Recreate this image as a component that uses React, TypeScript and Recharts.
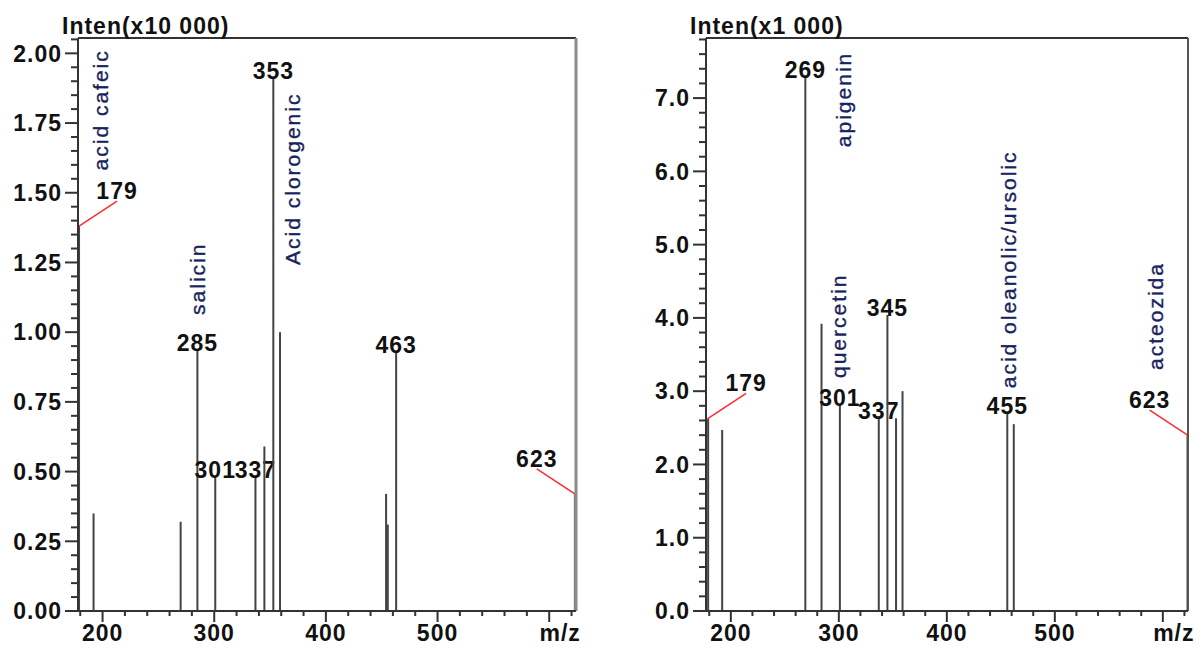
import React from 'react';
import { ComposedChart, Bar, Scatter, XAxis, YAxis, ReferenceLine } from 'recharts';

// ---------- Left spectrum: Inten(x10 000) ----------
const leftMz = [179, 192, 270, 285, 301, 337, 345, 353, 359, 454, 455.5, 463, 623];
const leftIntensity = [1.38, 0.35, 0.32, 0.935, 0.48, 0.48, 0.59, 1.91, 1.0, 0.42, 0.31, 0.93, 0.42];
const leftPeakLabels = [285, 301, 337, 353, 463];
const leftCallouts = [179, 623];
const leftCompounds = ['acid cafeic', 'salicin', 'Acid clorogenic'];
const leftCompoundMz = [197.7, 285, 370.5];
const leftCompoundIntensity = [1.58, 1.062, 1.241];
const leftYMajor = [0, 0.25, 0.5, 0.75, 1.0, 1.25, 1.5, 1.75, 2.0];
const leftTitle = 'Inten(x10 000)';

// ---------- Right spectrum: Inten(x1 000) ----------
const rightMz = [179, 192, 269, 284, 301, 337, 345, 353, 359, 456, 462, 623];
const rightIntensity = [2.63, 2.47, 7.29, 3.92, 2.81, 2.63, 4.04, 2.63, 3.0, 2.7, 2.55, 2.4];
const rightPeakLabels = [269, 301, 337, 345, 456];
const rightPeakLabelText = ['269', '301', '337', '345', '455'];
const rightCallouts = [179, 623];
const rightCompounds = ['apigenin', 'quercetin', 'acid oleanolic/ursolic', 'acteozida'];
const rightCompoundMz = [303.9, 299.2, 456.6, 592.7];
const rightCompoundIntensity = [6.33, 3.18, 3.04, 3.29];
const rightYMajor = [0, 1, 2, 3, 4, 5, 6, 7];
const rightTitle = 'Inten(x1 000)';

// ---------- X axis tick labels ----------
const xMajor = [200, 300, 400, 500, 600];
const xMajorLabels = ['200', '300', '400', '500', 'm/z'];

const FONT = '"Liberation Sans", Arial, sans-serif';
const numStyle: React.CSSProperties = { fontFamily: FONT, fontWeight: 700, fontSize: 23, letterSpacing: 1, fill: '#111' };
const compStyle: React.CSSProperties = {
  fontFamily: FONT,
  fontSize: 21,
  letterSpacing: 2,
  fill: '#17235e',
  stroke: '#17235e',
  strokeWidth: 0.35,
};

const buildTicks = (from: number, to: number, step: number) => {
  const out: number[] = [];
  const n = Math.round((to - from) / step);
  for (let i = 0; i <= n; i++) out.push(Math.round((from + i * step) * 1000) / 1000);
  return out;
};

const isIn = (v: number, list: number[]) => list.some((m) => Math.abs(m - v) < 1e-6);

const XTick = (props: any) => {
  const { x, y, payload } = props;
  const v = payload.value;
  const idx = xMajor.findIndex((m) => Math.abs(m - v) < 1e-6);
  const major = idx >= 0;
  const isUnit = major && xMajorLabels[idx] === 'm/z';
  return (
    <g>
      <line x1={x} x2={x} y1={y} y2={y + (major ? 11 : 5)} stroke="#333" strokeWidth={2} />
      {major && (
        <text x={x + (isUnit ? 11 : 0)} y={y + 30} textAnchor="middle" style={numStyle}>
          {xMajorLabels[idx]}
        </text>
      )}
    </g>
  );
};

const makeYTick = (majors: number[], decimals: number) => (props: any) => {
  const { x, y, payload } = props;
  const v = payload.value;
  const major = isIn(v, majors);
  return (
    <g>
      <line x1={x - (major ? 13 : 7)} x2={x} y1={y} y2={y} stroke="#333" strokeWidth={2} />
      {major && (
        <text x={x - 16} y={y} dy="0.36em" textAnchor="end" style={numStyle}>
          {v.toFixed(decimals)}
        </text>
      )}
    </g>
  );
};

const makePeakShape = (labels: number[], labelText: string[] | null, callouts: number[], mid: number, edgeColor: string) => (props: any) => {
  const { x, y, width, height, payload } = props;
  const cx = x + width / 2;
  const mz = payload.mz;
  const isCallout = isIn(mz, callouts);
  const items: React.ReactNode[] = [
    <rect
      key="b"
      x={cx - 1}
      y={y}
      width={2}
      height={Math.max(0, height)}
      fill={isCallout && mz > mid ? edgeColor : '#444'}
    />,
  ];
  const li = labels.findIndex((m) => Math.abs(m - mz) < 1e-6);
  if (li >= 0) {
    items.push(
      <text key="t" x={cx} y={y + 1} textAnchor="middle" style={numStyle}>
        {labelText ? labelText[li] : String(mz)}
      </text>
    );
  }
  if (isCallout) {
    const dir = mz < mid ? 1 : -1;
    const ex = cx + dir * 38;
    const ey = y - 25;
    items.push(<line key="c" x1={cx} y1={y} x2={ex} y2={ey} stroke="#ff2a2a" strokeWidth={1.5} />);
    items.push(
      <text key="ct" x={ex} y={ey - 2} textAnchor="middle" style={numStyle}>
        {String(mz)}
      </text>
    );
  }
  return <g>{items}</g>;
};

const CompoundLabel = (props: any) => {
  const { cx, cy, payload } = props;
  return (
    <text x={cx} y={cy} dy="0.36em" transform={`rotate(-90 ${cx} ${cy})`} textAnchor="start" style={compStyle}>
      {payload.text}
    </text>
  );
};

type SpecProps = {
  width: number;
  marginRight: number;
  yAxisWidth: number;
  mz: number[];
  intensity: number[];
  labels: number[];
  labelText: string[] | null;
  callouts: number[];
  compounds: string[];
  compoundMz: number[];
  compoundIntensity: number[];
  xDomain: [number, number];
  yMax: number;
  yMinorStep: number;
  yMajor: number[];
  decimals: number;
  title: string;
  frameColor: string;
  frameWidth: number;
  edgeColor: string;
};

const Spectrum = (p: SpecProps) => {
  const data = p.mz.map((mz, i) => ({ mz, val: p.intensity[i] }));
  const compData = p.compounds.map((text, i) => ({ mz: p.compoundMz[i], val: p.compoundIntensity[i], text }));
  const xTicks = buildTicks(180, 620, 20);
  const yTicks = buildTicks(0, Math.floor(p.yMax / p.yMinorStep + 1e-6) * p.yMinorStep, p.yMinorStep);
  const mid = (p.xDomain[0] + p.xDomain[1]) / 2;
  return (
    <ComposedChart
      width={p.width}
      height={650}
      data={data}
      margin={{ top: 38, right: p.marginRight, bottom: 0, left: 0 }}
    >
      <XAxis
        dataKey="mz"
        type="number"
        domain={p.xDomain}
        allowDataOverflow
        ticks={xTicks}
        interval={0}
        tick={<XTick />}
        tickLine={false}
        tickSize={0}
        tickMargin={0}
        height={39}
        axisLine={{ stroke: '#333', strokeWidth: 2 }}
      />
      <YAxis
        type="number"
        domain={[0, p.yMax]}
        allowDataOverflow
        ticks={yTicks}
        interval={0}
        tick={makeYTick(p.yMajor, p.decimals)}
        tickLine={false}
        tickSize={0}
        tickMargin={0}
        width={p.yAxisWidth}
        axisLine={{ stroke: '#333', strokeWidth: 2 }}
      />
      <ReferenceLine
        y={p.yMax}
        stroke="#333"
        strokeWidth={2}
        label={(lp: any) => {
          const vb = lp.viewBox || {};
          return (
            <text x={(vb.x ?? 0) - 16} y={(vb.y ?? 0) - 4} textAnchor="start" style={numStyle}>
              {p.title}
            </text>
          );
        }}
      />
      <ReferenceLine x={p.xDomain[1]} stroke={p.frameColor} strokeWidth={p.frameWidth} />
      <Bar
        dataKey="val"
        barSize={2}
        isAnimationActive={false}
        shape={makePeakShape(p.labels, p.labelText, p.callouts, mid, p.edgeColor)}
      />
      <Scatter data={compData} dataKey="val" isAnimationActive={false} shape={<CompoundLabel />} />
    </ComposedChart>
  );
};

export default function App() {
  return (
    <div style={{ position: 'absolute', left: 0, top: 0, width: 1196, height: 650, background: '#fff' }}>
      <div style={{ position: 'absolute', left: 0, top: 0 }}>
        <Spectrum
          width={600}
          marginRight={24}
          yAxisWidth={78}
          mz={leftMz}
          intensity={leftIntensity}
          labels={leftPeakLabels}
          labelText={null}
          callouts={leftCallouts}
          compounds={leftCompounds}
          compoundMz={leftCompoundMz}
          compoundIntensity={leftCompoundIntensity}
          xDomain={[178, 624]}
          yMax={2.055}
          yMinorStep={0.05}
          yMajor={leftYMajor}
          decimals={2}
          title={leftTitle}
          frameColor="#8a8a8a"
          frameWidth={3}
          edgeColor="#777"
        />
      </div>
      <div style={{ position: 'absolute', left: 600, top: 0 }}>
        <Spectrum
          width={596}
          marginRight={8}
          yAxisWidth={106}
          mz={rightMz}
          intensity={rightIntensity}
          labels={rightPeakLabels}
          labelText={rightPeakLabelText}
          callouts={rightCallouts}
          compounds={rightCompounds}
          compoundMz={rightCompoundMz}
          compoundIntensity={rightCompoundIntensity}
          xDomain={[177, 623.3]}
          yMax={7.82}
          yMinorStep={0.2}
          yMajor={rightYMajor}
          decimals={1}
          title={rightTitle}
          frameColor="#555"
          frameWidth={2}
          edgeColor="#000"
        />
      </div>
    </div>
  );
}
